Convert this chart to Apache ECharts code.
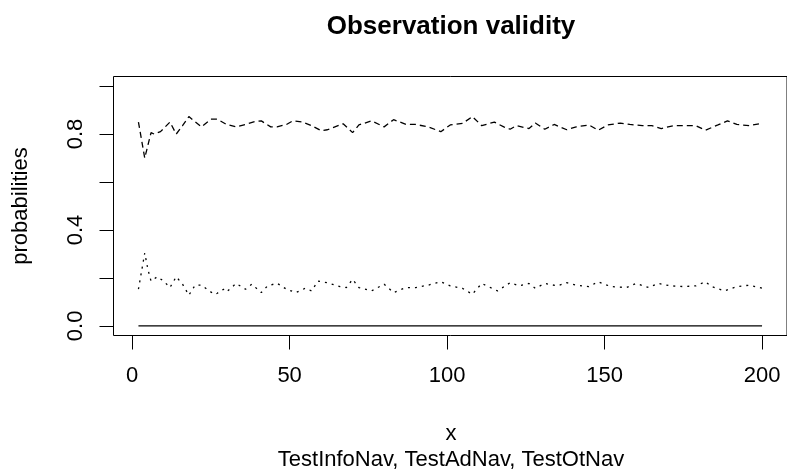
<!DOCTYPE html>
<html>
<head>
<meta charset="utf-8">
<script src="https://cdn.jsdelivr.net/npm/echarts@6/dist/echarts.min.js"></script>
<style>html,body{margin:0;padding:0;background:#fff;}#c{width:787px;height:476px;}</style>
</head>
<body>
<div id="c"></div>
<script>
// ---- data ----
const titleText = 'Observation validity';
const xName = 'x';
const xSub = 'TestInfoNav, TestAdNav, TestOtNav';
const yName = 'probabilities';
const xTicks = [0, 50, 100, 150, 200];
const yTicks = [0, 0.2, 0.4, 0.6, 0.8, 1.0];
const yTickLabels = [0, 0.4, 0.8];

// TestInfoNav (solid)
const infoX = [2, 200];
const infoY = [0, 0];

// TestAdNav (dashed)
const adX = [2, 4, 6, 7, 9, 12, 14, 16, 18, 22, 25, 27, 30, 33, 36, 39, 41, 44, 46, 49, 51, 54, 57, 60, 62, 67, 70, 72, 76, 80, 83, 87, 90, 94, 98, 101, 105, 108, 111, 115, 118, 120, 122, 126, 128, 131, 134, 138, 141, 145, 148, 151, 155, 158, 162, 165, 168, 172, 176, 179, 182, 186, 189, 192, 196, 200];
const adY = [0.85, 0.70, 0.806, 0.80, 0.81, 0.85, 0.80, 0.835, 0.873, 0.83, 0.862, 0.862, 0.84, 0.83, 0.84, 0.852, 0.855, 0.83, 0.83, 0.84, 0.855, 0.85, 0.835, 0.814, 0.818, 0.843, 0.806, 0.838, 0.855, 0.83, 0.86, 0.84, 0.84, 0.83, 0.81, 0.838, 0.845, 0.873, 0.835, 0.85, 0.83, 0.82, 0.835, 0.823, 0.846, 0.82, 0.84, 0.818, 0.83, 0.838, 0.816, 0.838, 0.846, 0.84, 0.835, 0.835, 0.823, 0.835, 0.835, 0.835, 0.816, 0.838, 0.855, 0.84, 0.835, 0.845];

// TestOtNav (dotted)
const otX = [2, 4, 5, 6, 8, 10, 12, 14, 16, 18, 20, 22, 26, 27, 29, 30, 33, 36, 38, 41, 43, 46, 49, 52, 55, 57, 59, 62, 66, 68, 70, 72, 76, 80, 83, 87, 90, 94, 98, 101, 105, 108, 111, 116, 120, 123, 126, 128, 131, 135, 138, 141, 145, 148, 152, 157, 160, 164, 167, 171, 175, 179, 182, 184, 188, 192, 196, 200];
const otY = [0.153, 0.304, 0.236, 0.187, 0.205, 0.187, 0.16, 0.205, 0.174, 0.128, 0.17, 0.17, 0.132, 0.136, 0.153, 0.142, 0.177, 0.153, 0.174, 0.139, 0.167, 0.178, 0.153, 0.139, 0.157, 0.146, 0.187, 0.18, 0.164, 0.16, 0.194, 0.16, 0.146, 0.174, 0.139, 0.16, 0.16, 0.17, 0.184, 0.167, 0.156, 0.132, 0.177, 0.146, 0.18, 0.167, 0.177, 0.157, 0.177, 0.167, 0.18, 0.17, 0.164, 0.184, 0.164, 0.16, 0.177, 0.16, 0.177, 0.167, 0.164, 0.167, 0.184, 0.164, 0.146, 0.164, 0.17, 0.157];

const pairs = (xs, ys) => xs.map((x, i) => [x, ys[i]]);
const FONT = 'Liberation Sans, Arial, sans-serif';

const chart = echarts.init(document.getElementById('c'), null, {renderer: 'canvas'});
chart.setOption({
  animation: false,
  backgroundColor: '#fff',
  grid: {
    left: 113.5, top: 76.5, width: 677, height: 259,
    show: true, borderColor: '#000', borderWidth: 1, backgroundColor: 'transparent',
    containLabel: false
  },
  xAxis: {
    type: 'value', min: -5.92, max: 207.92,
    axisLine: {show: false, onZero: false},
    axisTick: {show: true, inside: false, length: 14, customValues: xTicks, lineStyle: {color: '#000', width: 1}},
    axisLabel: {customValues: xTicks, margin: 29, fontSize: 22, color: '#000', fontFamily: FONT},
    splitLine: {show: false}
  },
  yAxis: {
    type: 'value', min: -0.04, max: 1.04,
    axisLine: {show: false, onZero: false},
    axisTick: {show: true, inside: false, length: 14, customValues: yTicks, lineStyle: {color: '#000', width: 1}},
    axisLabel: {customValues: yTickLabels, rotate: 90, margin: 27, fontSize: 22, color: '#000', fontFamily: FONT,
      formatter: v => Number(v).toFixed(1)},
    splitLine: {show: false}
  },
  graphic: [
    {type: 'text', x: 451, y: 27, style: {text: titleText, textAlign: 'center', textVerticalAlign: 'middle',
      font: 'bold 26px ' + FONT, fill: '#000'}},
    {type: 'text', x: 451, y: 434, style: {text: xName, textAlign: 'center', textVerticalAlign: 'middle',
      font: '22px ' + FONT, fill: '#000'}},
    {type: 'text', x: 451, y: 460, style: {text: xSub, textAlign: 'center', textVerticalAlign: 'middle',
      font: '22px ' + FONT, fill: '#000'}},
    {type: 'text', x: 21, y: 206, rotation: Math.PI / 2, style: {text: yName, textAlign: 'center', textVerticalAlign: 'middle',
      font: '22px ' + FONT, fill: '#000'}}
  ],
  series: [
    {name: 'TestInfoNav', type: 'line', data: pairs(infoX, infoY), showSymbol: false, symbol: 'none',
      lineStyle: {color: '#000', width: 1.3, type: 'solid'}},
    {name: 'TestAdNav', type: 'line', data: pairs(adX, adY), showSymbol: false, symbol: 'none',
      lineStyle: {color: '#000', width: 1.3, type: [6, 4]}},
    {name: 'TestOtNav', type: 'line', data: pairs(otX, otY), showSymbol: false, symbol: 'none',
      lineStyle: {color: '#000', width: 1.3, type: [2, 5]}}
  ]
});
</script>
</body>
</html>
